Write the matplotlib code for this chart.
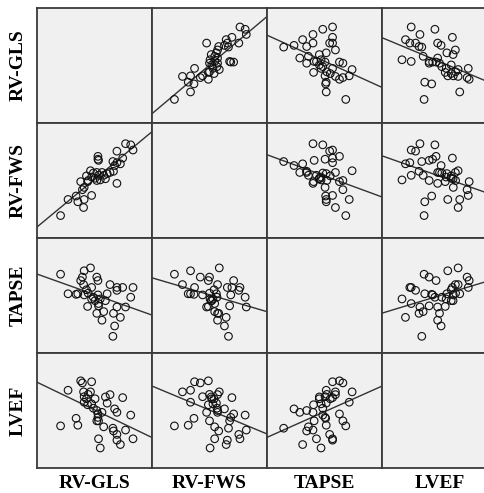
import numpy as np
import matplotlib
matplotlib.use("Agg")
import matplotlib.pyplot as plt

# Variable names (rows / columns of the scatterplot matrix)
variables = ["RV-GLS", "RV-FWS", "TAPSE", "LVEF"]

# Per-subject measurements
rv_gls = [-23.9, -22.6, -21.2, -20.9, -20.4, -20.1, -19.9, -19.8, -19.8, -19.4,
          -19.2, -19.1, -18.7, -18.5, -18.5, -18.2, -17.9, -17.6, -17.6, -17.4,
          -17.4, -17.3, -17.3, -17.0, -16.7, -16.4, -16.1, -15.8, -15.3, -14.8,
          -14.7, -14.5, -14.1, -14.1, -14.1, -13.5, -13.1, -12.6, -11.7, -11.3]
rv_fws = [-28.1, -25.3, -24.7, -25.7, -22.2, -23.6, -26.7, -25.3, -23.2, -21.2,
          -22.2, -22.0, -20.3, -24.6, -21.4, -20.7, -21.6, -20.6, -22.0, -17.8,
          -18.3, -21.1, -18.5, -21.9, -20.6, -21.1, -21.7, -20.8, -20.6, -18.7,
          -20.4, -19.4, -22.5, -18.9, -16.9, -19.1, -18.1, -15.6, -15.8, -16.7]
tapse = [21.7, 18.3, 18.2, 18.3, 20.6, 21.2, 19.9, 22.3, 18.1, 19.0,
         16.1, 18.4, 22.8, 19.4, 17.4, 17.7, 17.1, 14.9, 21.2, 20.6,
         18.1, 16.6, 16.2, 17.4, 13.7, 15.2, 17.1, 18.3, 19.9, 10.9,
         14.9, 12.7, 16.0, 19.4, 18.9, 14.2, 19.4, 16.0, 17.7, 19.4]
lvef = [43.3, 58.8, 46.6, 43.6, 62.9, 62.0, 58.1, 53.6, 56.0, 55.1,
        52.5, 57.0, 58.1, 62.5, 52.9, 51.0, 55.1, 50.0, 45.5, 48.5,
        47.0, 37.7, 45.5, 33.7, 49.2, 42.9, 55.9, 53.2, 56.9, 42.3,
        41.1, 50.7, 49.2, 37.1, 39.6, 35.2, 55.6, 41.5, 48.0, 37.7]

data = {"RV-GLS": np.array(rv_gls), "RV-FWS": np.array(rv_fws),
        "TAPSE": np.array(tapse), "LVEF": np.array(lvef)}
limits = {"RV-GLS": (-28, -8), "RV-FWS": (-32, -12),
          "TAPSE": (8, 28), "LVEF": (25, 75)}

W, H = 485, 493
fig = plt.figure(figsize=(W / 100, H / 100), dpi=100)
fig.patch.set_facecolor("white")

x0, y0, cell = 37, 8, 115
label_font = dict(family=["Liberation Serif", "DejaVu Serif"], weight="bold", size=14)

for i, row_var in enumerate(variables):
    for j, col_var in enumerate(variables):
        ax = fig.add_axes([(x0 + j * cell) / W, 1 - (y0 + (i + 1) * cell) / H,
                           cell / W, cell / H])
        ax.set_facecolor("#f0f0f0")
        for sp in ax.spines.values():
            sp.set_color("#3a3a3a")
            sp.set_linewidth(1.3)
        ax.set_xticks([])
        ax.set_yticks([])
        ax.set_xlim(*limits[col_var])
        ax.set_ylim(*limits[row_var])
        if i == j:
            continue
        x = data[col_var]
        y = data[row_var]
        ax.scatter(x, y, s=30, facecolors="none", edgecolors="#111111",
                   linewidths=0.8, zorder=3)
        slope, intercept = np.polyfit(x, y, 1)
        xs = np.array(limits[col_var])
        ax.plot(xs, slope * xs + intercept, color="#333333", lw=1.0, zorder=2)

for k, name in enumerate(variables):
    # column labels along the bottom
    fig.text((x0 + (k + 0.5) * cell) / W, 1 - 484 / H, name,
             ha="center", va="center", **label_font)
    # row labels down the left side
    fig.text(18 / W, 1 - (y0 + (k + 0.5) * cell) / H, name, rotation=90,
             ha="center", va="center", **label_font)

fig.savefig("out.png", dpi=100)
